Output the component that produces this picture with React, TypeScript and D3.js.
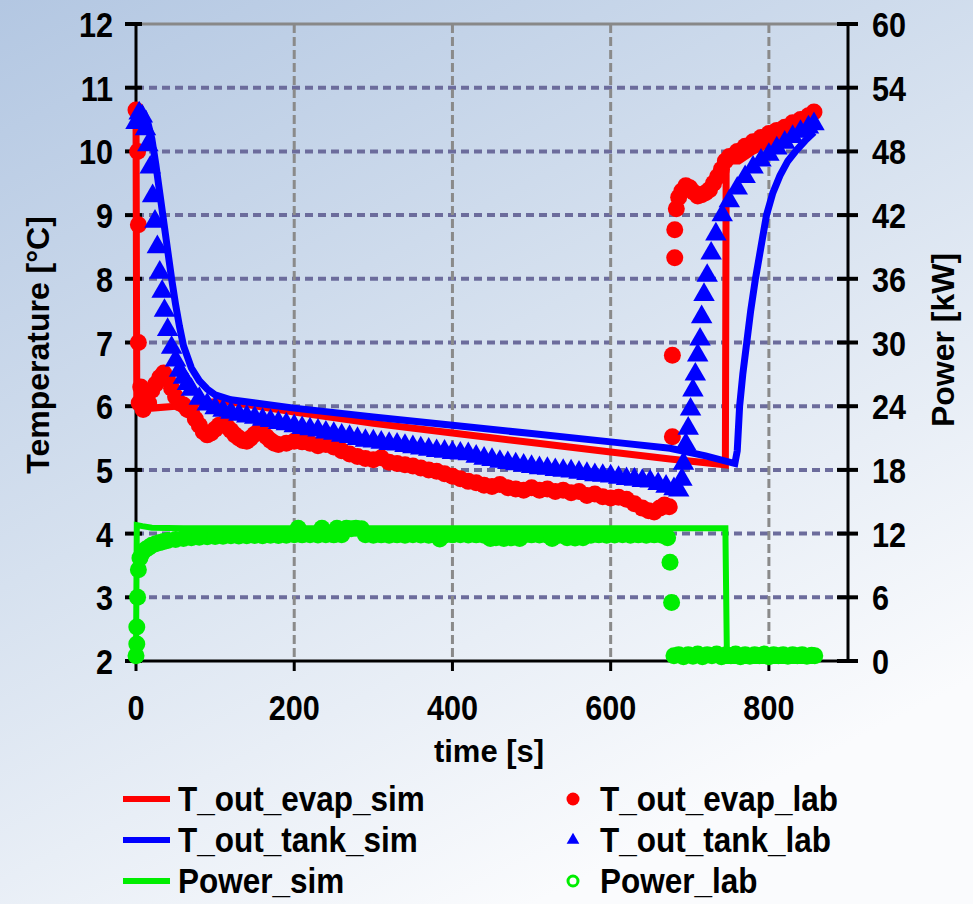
import React from 'react';
import * as d3 from 'd3';

// time [s], temperature [°C]
const evapSim: [number, number][] = [
  [0, 10.7], [1, 6.0], [20, 5.97], [50, 6.0], [80, 6.05], [112, 6.08], [200, 5.91], [300, 5.73],
  [400, 5.58], [500, 5.43], [600, 5.28], [675, 5.17], [745, 5.08], [746, 9.85], [762, 9.85],
  [780, 10.0], [800, 10.12], [820, 10.28], [840, 10.45], [858, 10.6],
];

const tankSim: [number, number][] = [
  [0, 10.5], [5, 10.62], [10, 10.6], [15, 10.45], [20, 10.2], [25, 9.8], [30, 9.35], [35, 8.9],
  [40, 8.45], [45, 8.0], [50, 7.6], [55, 7.25], [60, 6.95], [70, 6.6], [80, 6.4], [90, 6.27],
  [100, 6.18], [120, 6.1], [200, 5.97], [300, 5.83], [400, 5.7], [500, 5.57], [600, 5.44],
  [675, 5.34], [720, 5.22], [757, 5.1], [760, 5.3], [763, 6.0], [767, 6.5], [772, 7.0], [777, 7.5],
  [783, 8.0], [790, 8.5], [797, 9.0], [805, 9.35], [814, 9.62], [824, 9.85], [835, 10.02],
  [846, 10.17], [857, 10.3],
];

const evapLab: [number, number][] = [
  [0, 10.65], [2, 10.0], [3, 8.85], [3, 7.0], [4, 6.05], [6, 6.3], [9, 5.95], [12, 6.2], [16, 6.05],
  [20, 6.25], [25, 6.35], [30, 6.45], [35, 6.52], [40, 6.42], [45, 6.28], [50, 6.15], [55, 6.05],
  [60, 6.02], [65, 5.95], [70, 5.92], [75, 5.8], [80, 5.7], [85, 5.6], [90, 5.55], [95, 5.58],
  [100, 5.64], [105, 5.7], [110, 5.72], [115, 5.68], [120, 5.62], [125, 5.55], [130, 5.5],
  [135, 5.46], [140, 5.45], [145, 5.5], [150, 5.56], [155, 5.6], [160, 5.58], [165, 5.52],
  [170, 5.46], [175, 5.42], [180, 5.4], [190, 5.42], [200, 5.45], [210, 5.44], [220, 5.42],
  [230, 5.38], [240, 5.4], [250, 5.36], [260, 5.3], [270, 5.25], [280, 5.21], [290, 5.18],
  [300, 5.16], [310, 5.19], [320, 5.12], [330, 5.1], [340, 5.08], [350, 5.06], [360, 5.03],
  [370, 5.0], [380, 4.98], [390, 4.94], [400, 4.9], [410, 4.86], [420, 4.82], [430, 4.8],
  [440, 4.76], [450, 4.74], [460, 4.77], [470, 4.72], [480, 4.7], [490, 4.68], [500, 4.72],
  [510, 4.68], [520, 4.7], [530, 4.66], [540, 4.68], [550, 4.64], [560, 4.66], [570, 4.6],
  [580, 4.62], [590, 4.58], [600, 4.56], [610, 4.57], [620, 4.54], [630, 4.47], [640, 4.4],
  [648, 4.36], [655, 4.34], [662, 4.4], [668, 4.45], [674, 4.42], [678, 5.52], [678, 6.8],
  [681, 8.33], [681, 8.77], [683, 9.1], [686, 9.28], [690, 9.38], [695, 9.46], [700, 9.43],
  [705, 9.36], [710, 9.3], [715, 9.32], [720, 9.35], [725, 9.4], [730, 9.5], [735, 9.6],
  [740, 9.72], [745, 9.85], [750, 9.92], [760, 10.0], [770, 10.08], [780, 10.15], [790, 10.22],
  [800, 10.28], [810, 10.33], [820, 10.38], [830, 10.45], [840, 10.5], [850, 10.56], [857, 10.62],
];

const tankLab: [number, number][] = [
  [0, 10.45], [4, 10.6], [8, 10.55], [12, 10.35], [15, 10.1], [18, 9.75], [21, 9.3], [24, 8.9],
  [27, 8.5], [30, 8.1], [33, 7.8], [36, 7.5], [40, 7.2], [45, 6.92], [50, 6.72], [55, 6.56],
  [60, 6.45], [65, 6.35], [70, 6.26], [80, 6.12], [90, 6.03], [100, 5.97], [110, 5.93], [120, 5.9],
  [130, 5.87], [140, 5.84], [150, 5.82], [160, 5.79], [170, 5.77], [180, 5.74], [190, 5.72],
  [200, 5.69], [210, 5.66], [220, 5.64], [230, 5.62], [240, 5.59], [250, 5.57], [260, 5.54],
  [270, 5.52], [280, 5.49], [290, 5.46], [300, 5.45], [310, 5.43], [320, 5.41], [330, 5.4],
  [340, 5.38], [350, 5.36], [360, 5.34], [370, 5.32], [380, 5.3], [390, 5.29], [400, 5.27],
  [410, 5.26], [420, 5.25], [430, 5.21], [440, 5.18], [450, 5.16], [460, 5.13], [470, 5.11],
  [480, 5.09], [490, 5.07], [500, 5.05], [510, 5.03], [520, 5.02], [530, 5.0], [540, 4.99],
  [550, 4.98], [560, 4.96], [570, 4.94], [580, 4.92], [590, 4.91], [600, 4.9], [610, 4.88],
  [620, 4.86], [630, 4.85], [640, 4.83], [650, 4.82], [660, 4.78], [670, 4.74], [680, 4.7],
  [686, 4.68], [690, 4.85], [692, 5.1], [695, 5.4], [698, 5.65], [701, 5.95], [704, 6.25],
  [707, 6.5], [710, 6.8], [713, 7.05], [715, 7.4], [718, 7.75], [722, 8.05], [727, 8.4],
  [733, 8.7], [741, 9.0], [750, 9.22], [760, 9.42], [770, 9.6], [780, 9.75], [790, 9.86],
  [800, 9.95], [810, 10.05], [820, 10.14], [830, 10.23], [840, 10.31], [850, 10.38], [857, 10.43],
];

// time [s], power [kW]
const powerSim: [number, number][] = [
  [0, 0.3], [1, 12.8], [8, 12.7], [20, 12.55], [60, 12.5], [745, 12.5], [747, 0], [858, 0],
];

const powerLab: [number, number][] = [
  [0, 0.5], [1, 1.6], [1, 3.2], [2, 6.0], [3, 8.6], [5, 9.7], [8, 10.2], [12, 10.5], [16, 10.7],
  [20, 10.9], [25, 11.05], [30, 11.15], [35, 11.25], [40, 11.35], [50, 11.45], [60, 11.55],
  [70, 11.6], [80, 11.65], [90, 11.7], [100, 11.72], [110, 11.75], [120, 11.8], [130, 11.78],
  [140, 11.8], [150, 11.82], [160, 11.8], [170, 11.84], [180, 11.82], [190, 11.85], [200, 11.9],
  [205, 12.5], [210, 11.88], [220, 11.9], [230, 11.86], [235, 12.5], [240, 11.9], [250, 11.88],
  [254, 12.5], [260, 11.9], [266, 12.5], [272, 12.45], [278, 12.5], [285, 12.45], [290, 11.9],
  [300, 11.85], [310, 11.88], [320, 11.85], [330, 11.88], [340, 11.85], [350, 11.9], [360, 11.86],
  [370, 11.85], [380, 11.82], [384, 11.5], [390, 11.85], [400, 11.88], [410, 11.9], [420, 11.86],
  [430, 11.88], [440, 11.85], [448, 11.55], [455, 11.6], [465, 11.55], [475, 11.6], [485, 11.55],
  [490, 11.85], [500, 11.88], [510, 11.86], [520, 11.85], [526, 11.55], [535, 11.85], [545, 11.6],
  [555, 11.58], [565, 11.6], [575, 11.85], [585, 11.88], [595, 11.85], [605, 11.86], [615, 11.9],
  [625, 11.85], [635, 11.88], [645, 11.85], [655, 11.88], [665, 11.85], [672, 11.6], [675, 9.3],
  [677, 5.5], [680, 0.5], [686, 0.6], [692, 0.4], [698, 0.6], [704, 0.45], [710, 0.65], [716, 0.4],
  [722, 0.6], [728, 0.5], [734, 0.65], [740, 0.4], [746, 0.6], [752, 0.5], [758, 0.65], [764, 0.4],
  [770, 0.6], [776, 0.45], [782, 0.6], [788, 0.5], [794, 0.65], [800, 0.4], [806, 0.6], [812, 0.5],
  [818, 0.6], [824, 0.45], [830, 0.6], [836, 0.5], [842, 0.6], [848, 0.45], [854, 0.55], [858, 0.5],
];

const timeTicks = [0, 200, 400, 600, 800];
const tempTicks = [2, 3, 4, 5, 6, 7, 8, 9, 10, 11, 12];
const powerTicks = [0, 6, 12, 18, 24, 30, 36, 42, 48, 54, 60];

const RED = '#ff0000';
const BLUE = '#0000ff';
const GREEN = '#00ee00';
const FONT = '"Liberation Sans", Arial, sans-serif';

const App = () => {
  const W = 973;
  const H = 904;
  const left = 136, right = 848, top = 24, bottom = 661;

  const x = d3.scaleLinear().domain([0, 900]).range([left, right]);
  const yT = d3.scaleLinear().domain([2, 12]).range([bottom, top]);
  const yP = d3.scaleLinear().domain([0, 60]).range([bottom, top]);

  const lineT = d3.line<[number, number]>().x(d => x(d[0])).y(d => yT(d[1]));
  const lineP = d3.line<[number, number]>().x(d => x(d[0])).y(d => yP(d[1]));
  const tri = d3.symbol().type(d3.symbolTriangle).size(200)();
  const triLegend = d3.symbol().type(d3.symbolTriangle).size(70)();

  const tickText = (tx: number, ty: number, anchor: string, label: string, key: string) => (
    <text key={key} transform={`translate(${tx},${ty}) scale(0.85,1)`} textAnchor={anchor}
      fontSize={36} fontWeight="bold" fontFamily={FONT} fill="#000">{label}</text>
  );

  const legendLines = [
    { color: RED, text: 'T_out_evap_sim', y: 799 },
    { color: BLUE, text: 'T_out_tank_sim', y: 840 },
    { color: GREEN, text: 'Power_sim', y: 881 },
  ];
  const legendMarks = [
    { kind: 'dot', color: RED, text: 'T_out_evap_lab', y: 799 },
    { kind: 'tri', color: BLUE, text: 'T_out_tank_lab', y: 840 },
    { kind: 'ring', color: GREEN, text: 'Power_lab', y: 881 },
  ];

  return (
    <svg width={W} height={H} style={{ position: 'absolute', left: 0, top: 0 }}>
      <defs>
        <linearGradient id="bg" x1="0" y1="0" x2="0.55" y2="1">
          <stop offset="0" stopColor="#b3c7e2" />
          <stop offset="0.5" stopColor="#d6e1ef" />
          <stop offset="1" stopColor="#fafbfd" />
        </linearGradient>
      </defs>
      <rect x={0} y={0} width={W} height={H} fill="url(#bg)" />

      {/* grid */}
      {tempTicks.filter(v => v > 2 && v < 12).map(v => (
        <line key={`hg${v}`} x1={left} x2={right} y1={yT(v)} y2={yT(v)}
          stroke="#6c6c9c" strokeWidth={4} strokeDasharray="8,5" />
      ))}
      {timeTicks.filter(v => v > 0).map(v => (
        <line key={`vg${v}`} x1={x(v)} x2={x(v)} y1={top} y2={bottom}
          stroke="#8a8a8a" strokeWidth={3} strokeDasharray="9,4" />
      ))}
      <line x1={left} x2={right} y1={top} y2={top} stroke="#888" strokeWidth={3} />

      {/* axes */}
      <line x1={left} x2={left} y1={top} y2={bottom} stroke="#000" strokeWidth={3} />
      <line x1={right} x2={right} y1={top} y2={bottom} stroke="#000" strokeWidth={3} />
      <line x1={125} x2={right + 9} y1={bottom} y2={bottom} stroke="#000" strokeWidth={3} />
      {tempTicks.map(v => (
        <line key={`lt${v}`} x1={125} x2={142} y1={yT(v)} y2={yT(v)} stroke="#000" strokeWidth={4} />
      ))}
      {powerTicks.map(v => (
        <line key={`rt${v}`} x1={837} x2={858} y1={yP(v)} y2={yP(v)} stroke="#000" strokeWidth={4} />
      ))}
      {timeTicks.map(v => (
        <line key={`xt${v}`} x1={x(v)} x2={x(v)} y1={bottom} y2={bottom + 10} stroke="#000" strokeWidth={3} />
      ))}

      {/* data */}
      <g>
        {evapLab.map((d, i) => (
          <circle key={`el${i}`} cx={x(d[0])} cy={yT(d[1])} r={8.5} fill={RED} />
        ))}
      </g>
      <path d={lineT(evapSim) || ''} fill="none" stroke={RED} strokeWidth={7} />
      <g>
        {tankLab.map((d, i) => (
          <path key={`tl${i}`} d={tri || ''} transform={`translate(${x(d[0])},${yT(d[1])})`} fill={BLUE} />
        ))}
      </g>
      <path d={lineT(tankSim) || ''} fill="none" stroke={BLUE} strokeWidth={7} />
      <g>
        {powerLab.map((d, i) => (
          <circle key={`pl${i}`} cx={x(d[0])} cy={yP(d[1])} r={8.5} fill={GREEN} />
        ))}
      </g>
      <path d={lineP(powerSim) || ''} fill="none" stroke={GREEN} strokeWidth={6} />

      {/* tick labels */}
      {tempTicks.map(v => tickText(113, yT(v) + 13, 'end', String(v), `tl${v}`))}
      {powerTicks.map(v => tickText(872, yP(v) + 13, 'start', String(v), `pl${v}`))}
      {timeTicks.map(v => tickText(x(v), 720, 'middle', String(v), `xl${v}`))}

      {/* axis titles */}
      <text x={489} y={762} textAnchor="middle" fontSize={31} fontWeight="bold" fontFamily={FONT}>time [s]</text>
      <text transform="translate(49,345) rotate(-90)" textAnchor="middle" fontSize={32} fontWeight="bold"
        fontFamily={FONT}>Temperature [°C]</text>
      <text transform="translate(954,340) rotate(-90)" textAnchor="middle" fontSize={32} fontWeight="bold"
        fontFamily={FONT}>Power [kW]</text>

      {/* legend */}
      {legendLines.map(l => (
        <g key={l.text}>
          <line x1={123} x2={170} y1={l.y} y2={l.y} stroke={l.color} strokeWidth={6} />
          <text transform={`translate(178,${l.y + 12}) scale(0.9,1)`} fontSize={35} fontWeight="bold"
            fontFamily={FONT}>{l.text}</text>
        </g>
      ))}
      {legendMarks.map(l => (
        <g key={l.text}>
          {l.kind === 'dot' && <circle cx={573} cy={l.y} r={6.5} fill={l.color} />}
          {l.kind === 'tri' && <path d={triLegend || ''} transform={`translate(573,${l.y})`} fill={l.color} />}
          {l.kind === 'ring' && <circle cx={573} cy={l.y} r={5} fill="#fff" stroke={l.color} strokeWidth={3} />}
          <text transform={`translate(600,${l.y + 12}) scale(0.9,1)`} fontSize={35} fontWeight="bold"
            fontFamily={FONT}>{l.text}</text>
        </g>
      ))}
    </svg>
  );
};

export default App;
